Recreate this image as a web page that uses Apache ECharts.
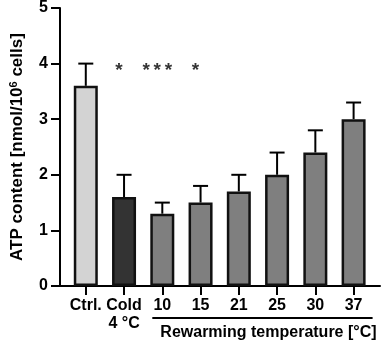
<!DOCTYPE html>
<html>
<head>
<meta charset="utf-8">
<script src="https://cdn.jsdelivr.net/npm/echarts@6/dist/echarts.min.js"></script>
<style>
html,body{margin:0;padding:0;background:#fff;}
#chart{width:383px;height:342px;}
</style>
</head>
<body>
<div id="chart"></div>
<script>
var categories = ["Ctrl.", "Cold\n4 °C", "10", "15", "21", "25", "30", "37"]
var means = [3.6, 1.6, 1.3, 1.5, 1.7, 2.0, 2.4, 3.0]
var errors = [0.4, 0.4, 0.2, 0.3, 0.3, 0.4, 0.4, 0.3]
var stars = ["", "*", "***", "*", "", "", "", ""]
var barColors = ["#d3d3d3", "#333333", "#7f7f7f", "#7f7f7f", "#7f7f7f", "#7f7f7f", "#7f7f7f", "#7f7f7f"]
var rewarmFrom = 2, rewarmTo = 7

var font = "'Liberation Sans', Arial, sans-serif"
var idx = categories.map((c, i) => i)

var myChart = echarts.init(document.getElementById("chart"))
var option = {
	animation: false,
	grid: { left: 57, right: 3, top: 8, bottom: 56 },
	xAxis: {
		type: "value",
		min: -0.674,
		max: 7.69,
		splitLine: { show: false },
		axisLine: { show: true, onZero: false, lineStyle: { color: "#000", width: 2 } },
		axisTick: { show: true, customValues: idx, length: 9, lineStyle: { color: "#000", width: 2 } },
		axisLabel: {
			customValues: idx,
			formatter: (v) => categories[Math.round(v)],
			color: "#000", fontSize: 16, fontWeight: "bold", fontFamily: font,
			margin: 11, lineHeight: 18
		}
	},
	yAxis: {
		type: "value",
		min: 0, max: 5, interval: 1,
		splitLine: { show: false },
		axisLine: { show: true, onZero: false, lineStyle: { color: "#000", width: 2 } },
		axisTick: { show: true, length: 9, lineStyle: { color: "#000", width: 2 } },
		axisLabel: { color: "#000", fontSize: 16, fontWeight: "bold", fontFamily: font, margin: 12 },
		name: "{a|ATP content [nmol/10}{s|6}{a| cells]}",
		nameLocation: "middle",
		nameGap: 34,
		nameTextStyle: {
			rich: {
				a: { fontSize: 17, fontWeight: "bold", fontFamily: font, color: "#000" },
				s: { fontSize: 11, fontWeight: "bold", fontFamily: font, color: "#000", verticalAlign: "top", padding: [0, 0, 7, 0] }
			}
		}
	},
	series: [
		{
			type: "bar",
			barWidth: 24,
			data: means.map((m, i) => ({
				value: [i, m],
				itemStyle: { color: barColors[i], borderColor: "#111", borderWidth: 2.5 }
			})),
			z: 2
		},
		{
			type: "custom",
			z: 1,
			data: means.map((m, i) => [i, m, m + errors[i]]),
			renderItem: (params, api) => {
				var low = api.coord([api.value(0), api.value(1)])
				var high = api.coord([api.value(0), api.value(2)])
				var style = { stroke: "#000", lineWidth: 2 }
				return {
					type: "group",
					children: [
						{ type: "line", shape: { x1: low[0], y1: low[1], x2: high[0], y2: high[1] }, style: style },
						{ type: "line", shape: { x1: high[0] - 7.5, y1: high[1], x2: high[0] + 7.5, y2: high[1] }, style: style }
					]
				}
			}
		},
		{
			type: "scatter",
			symbolSize: 0,
			data: stars.map((s, i) => [i, 3.88]),
			label: {
				show: true,
				position: "inside",
				offset: [-5, 0],
				formatter: (p) => stars[p.dataIndex].split("").join("\u2009"),
				color: "#000", fontSize: 19, fontWeight: "bold", fontFamily: font
			}
		}
	]
}
myChart.setOption(option)

// bracket under the rewarming temperatures
var left = myChart.convertToPixel({ gridIndex: 0 }, [rewarmFrom, 0])
var right = myChart.convertToPixel({ gridIndex: 0 }, [rewarmTo, 0])
var x1 = left[0] - 10, x2 = right[0] + 19
myChart.setOption({
	graphic: [
		{ type: "line", shape: { x1: x1, y1: 318, x2: x2, y2: 318 }, style: { stroke: "#000", lineWidth: 2 } },
		{
			type: "text", x: (x1 + x2) / 2 + 6, y: 333,
			style: {
				text: "Rewarming temperature [°C]", fill: "#000",
				font: "bold 16px " + font, align: "center", verticalAlign: "middle"
			}
		}
	]
})
</script>
</body>
</html>
